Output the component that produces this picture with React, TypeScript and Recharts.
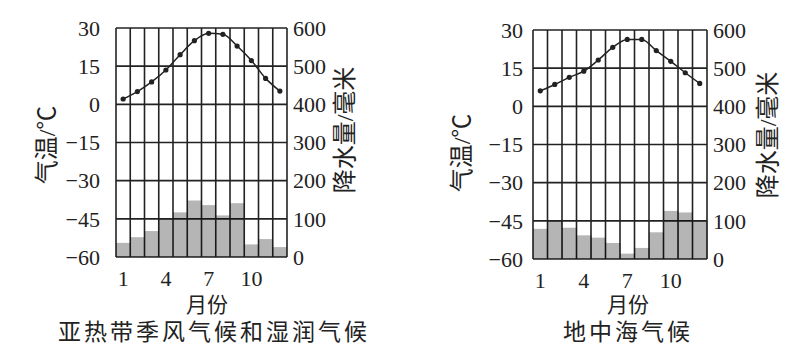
import React from "react"
import { Bar, CartesianGrid, ComposedChart, Line, XAxis, YAxis } from "recharts"

const months = [1, 2, 3, 4, 5, 6, 7, 8, 9, 10, 11, 12]
const tempTicks = [30, 15, 0, -15, -30, -45, -60]
const rainTicks = [0, 100, 200, 300, 400, 500, 600]

// 亚热带季风气候和湿润气候
const monsoonTemp = [2.1, 5, 8.8, 13.5, 19.5, 25, 27.9, 27.5, 22.9, 17.2, 10.2, 5.2]
const monsoonRain = [37, 52, 68, 100, 117, 148, 136, 109, 141, 33, 47, 26]

// 地中海气候
const medTemp = [6.1, 8.6, 11.4, 13.8, 18.2, 23.2, 26.3, 26.3, 21.9, 17.7, 13.2, 9]
const medRain = [79, 100, 82, 62, 56, 42, 14, 29, 70, 126, 122, 100]

const serif = "'Liberation Serif', 'DejaVu Serif', serif"
// serif first keeps the line box tight, the CJK glyphs fall back to Noto
const cjk = "'Liberation Serif', 'Noto Sans CJK SC', sans-serif"
const ink = "#222"

const fmt = (v: number) => (v < 0 ? "\u2212" + Math.abs(v) : String(v))

interface ClimateProps {
  left: number
  temps: number[]
  rains: number[]
  title: string
  margin: { top: number; right: number; bottom: number; left: number }
  leftGap: number
  tempLabel: { x: number; y: number }
  rainLabel: { x: number; y: number }
  monthLabel: { x: number; y: number }
  titlePos: { x: number; y: number }
}

function ClimateChart(p: ClimateProps) {
  const data = months.map((m, i) => ({ month: m, temp: p.temps[i], rain: p.rains[i] }))
  const tick = { fontSize: 22, fill: ink, fontFamily: serif }
  const textStyle: React.CSSProperties = {
    position: "absolute",
    fontFamily: cjk,
    color: ink,
    whiteSpace: "nowrap",
    lineHeight: 1,
  }
  return (
    <div style={{ position: "absolute", left: p.left, top: 0, width: 395, height: 353, fontFamily: serif }}>
      <ComposedChart
        width={395}
        height={353}
        data={data}
        margin={p.margin}
        barCategoryGap={0}
        style={{ fontFamily: serif }}
      >
        <XAxis
          dataKey="month"
          interval={2}
          axisLine={false}
          tickLine={false}
          tickSize={0}
          tickMargin={13}
          height={30}
          tick={tick}
        />
        <YAxis
          yAxisId="t"
          domain={[-60, 30]}
          ticks={tempTicks}
          width={60}
          axisLine={false}
          tickLine={false}
          tickSize={0}
          tickMargin={p.leftGap}
          tickFormatter={fmt}
          tick={tick}
        />
        <YAxis
          yAxisId="p"
          orientation="right"
          domain={[0, 600]}
          ticks={rainTicks}
          width={60}
          axisLine={false}
          tickLine={false}
          tickSize={0}
          tickMargin={6}
          tick={tick}
        />
        <CartesianGrid
          yAxisId="t"
          stroke={ink}
          strokeWidth={1.6}
          strokeDasharray=""
          verticalCoordinatesGenerator={({ offset }: any) =>
            months.concat([13]).map((_, i) => offset.left + (offset.width * i) / 12)
          }
        />
        {/* translucent black so the grid shows through the bars */}
        <Bar yAxisId="p" dataKey="rain" fill="#000" fillOpacity={0.29} isAnimationActive={false} />
        <Line
          yAxisId="t"
          dataKey="temp"
          type="monotone"
          stroke={ink}
          strokeWidth={1.5}
          dot={{ r: 2.6, fill: ink, stroke: "none" }}
          isAnimationActive={false}
        />
      </ComposedChart>
      <div
        style={{
          ...textStyle,
          fontSize: 24,
          left: p.tempLabel.x,
          top: p.tempLabel.y,
          transform: "translate(-50%, -50%) rotate(-90deg)",
        }}
      >
        气温/℃
      </div>
      <div
        style={{
          ...textStyle,
          fontSize: 24,
          left: p.rainLabel.x,
          top: p.rainLabel.y,
          transform: "translate(-50%, -50%) rotate(-90deg)",
        }}
      >
        降水量/毫米
      </div>
      <div
        style={{
          ...textStyle,
          fontSize: 21,
          left: p.monthLabel.x,
          top: p.monthLabel.y,
          transform: "translate(-50%, -50%)",
        }}
      >
        月份
      </div>
      <div
        style={{
          ...textStyle,
          fontSize: 23,
          letterSpacing: 3,
          left: p.titlePos.x,
          top: p.titlePos.y,
          transform: "translate(-50%, -50%)",
        }}
      >
        {p.title}
      </div>
    </div>
  )
}

export default function App() {
  return (
    <div
      style={{
        position: "absolute",
        left: 0,
        top: 0,
        width: 790,
        height: 353,
        background: "#fff",
        overflow: "hidden",
      }}
    >
      <ClimateChart
        left={0}
        temps={monsoonTemp}
        rains={monsoonRain}
        title="亚热带季风气候和湿润气候"
        margin={{ top: 28, right: 48, bottom: 66, left: 56 }}
        leftGap={16}
        tempLabel={{ x: 47, y: 145 }}
        rainLabel={{ x: 345, y: 130 }}
        monthLabel={{ x: 207, y: 305 }}
        titlePos={{ x: 214, y: 332 }}
      />
      <ClimateChart
        left={395}
        temps={medTemp}
        rains={medRain}
        title="地中海气候"
        margin={{ top: 30, right: 23, bottom: 64, left: 78 }}
        leftGap={10}
        tempLabel={{ x: 67, y: 153 }}
        rainLabel={{ x: 373, y: 135 }}
        monthLabel={{ x: 233, y: 305 }}
        titlePos={{ x: 233, y: 332 }}
      />
    </div>
  )
}
